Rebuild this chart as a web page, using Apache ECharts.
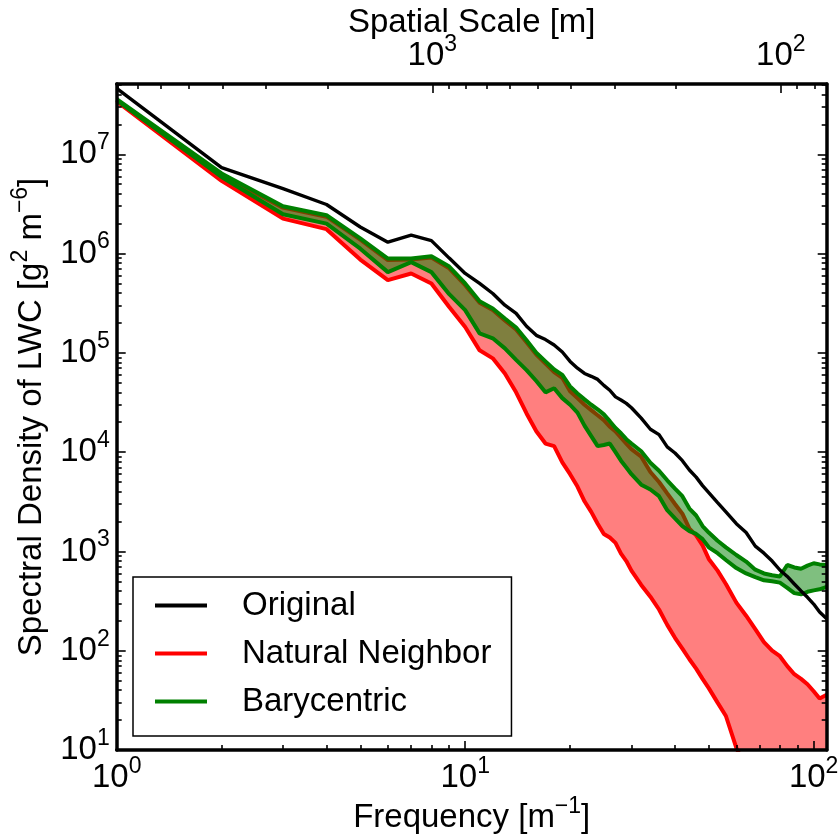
<!DOCTYPE html>
<html>
<head>
<meta charset="utf-8">
<script src="https://cdn.jsdelivr.net/npm/echarts@6/dist/echarts.min.js"></script>
<style>
  html, body { margin: 0; padding: 0; background: #fff; }
  #chart { width: 839px; height: 837px; }
</style>
</head>
<body>
<div id="chart"></div>
<script>
// frequency samples [m^-1]
const freq = [1, 2, 3, 4, 5, 6, 7, 8, 9, 10, 11, 12, 13, 14, 15, 16, 17, 18, 19, 20,
  21, 22, 23, 24, 25, 26, 27, 28, 29, 30, 32, 34, 36, 38, 40, 42, 44, 46, 48, 50,
  53, 56, 60, 64, 68, 72, 76, 80, 84, 88, 92, 96, 100, 104, 109];

const original = [4.6e7, 7.35e6, 4.5e6, 3.12e6, 1.85e6, 1.3e6, 1.53e6, 1.35e6, 9.0e5, 6.3e5,
  5.0e5, 3.96e5, 3.02e5, 2.5e5, 1.85e5, 1.5e5, 1.36e5, 1.2e5, 1.02e5, 8.2e4,
  7.0e4, 6.2e4, 5.8e4, 5.4e4, 4.7e4, 4.2e4, 3.6e4, 3.35e4, 3.1e4, 2.8e4,
  2.2e4, 1.7e4, 1.5e4, 1.13e4, 9.8e3, 8.2e3, 6.6e3, 5.6e3, 4.6e3, 3.9e3,
  3.1e3, 2.5e3, 1.9e3, 1.55e3, 1.13e3, 960, 800, 650, 560, 470, 400, 345, 295, 245, 210];

const nnUpper = [3.5e7, 6.2e6, 2.9e6, 2.35e6, 1.38e6, 8.6e5, 8.7e5, 9.1e5, 7.1e5, 4.8e5,
  3.2e5, 2.7e5, 2.12e5, 1.72e5, 1.28e5, 9.6e4, 7.8e4, 6.4e4, 5.6e4, 4.1e4,
  3.5e4, 3.0e4, 2.65e4, 2.35e4, 2.1e4, 1.8e4, 1.62e4, 1.4e4, 1.22e4, 1.07e4,
  9.0e3, 6.3e3, 5.0e3, 3.84e3, 3.0e3, 2.4e3, 1.7e3, 1.45e3, 1.15e3, 840,
  640, 470, 305, 225, 165, 122, 100, 88, 70, 58, 52, 46, 39, 33, 36];

const nnLower = [3.4e7, 5.4e6, 2.25e6, 1.76e6, 8.7e5, 5.4e5, 6.3e5, 5.0e5, 2.9e5, 1.82e5,
  1.06e5, 8.8e4, 6.2e4, 4.0e4, 2.45e4, 1.62e4, 1.22e4, 1.15e4, 7.9e3, 6.0e3,
  4.5e3, 3.2e3, 2.5e3, 1.9e3, 1.5e3, 1.38e3, 1.22e3, 950, 800, 640,
  460, 350, 260, 182, 135, 105, 82, 66, 52, 42,
  30, 22, 10.5, 6.5, 4.2, 3, 2.2, 1.6, 1.2, 0.95, 0.8, 0.65, 0.55, 0.45, 0.4];

const baryUpper = [3.6e7, 6.4e6, 3.0e6, 2.43e6, 1.42e6, 8.9e5, 8.9e5, 9.4e5, 7.4e5, 5.0e5,
  3.3e5, 2.8e5, 2.22e5, 1.8e5, 1.34e5, 1.0e5, 8.2e4, 6.8e4, 6.0e4, 4.6e4,
  3.9e4, 3.4e4, 3.0e4, 2.7e4, 2.4e4, 2.05e4, 1.75e4, 1.55e4, 1.35e4, 1.22e4,
  1.02e4, 7.8e3, 6.5e3, 5.2e3, 4.3e3, 3.6e3, 2.7e3, 2.3e3, 1.8e3, 1.55e3,
  1.28e3, 1.1e3, 920, 790, 655, 600, 575, 560, 730, 690, 670, 720, 760, 740, 730];

const baryLower = [3.5e7, 5.9e6, 2.49e6, 2.0e6, 1.12e6, 6.5e5, 8.2e5, 6.5e5, 3.9e5, 2.69e5,
  1.57e5, 1.4e5, 1.11e5, 8.5e4, 6.7e4, 5.2e4, 4.0e4, 4.4e4, 3.5e4, 3.0e4,
  2.5e4, 1.85e4, 1.45e4, 1.15e4, 1.18e4, 1.22e4, 1.0e4, 8.2e3, 7.0e3, 6.0e3,
  4.7e3, 4.2e3, 3.6e3, 2.6e3, 2.15e3, 1.8e3, 1.6e3, 1.5e3, 1.33e3, 1.1e3,
  960, 820, 680, 600, 550, 512, 500, 485, 430, 380, 370, 392, 405, 415, 440];

// axis ranges and tick values
const xMin = 1, xMax = 109;
const yMin = 10, yMax = 5.1e7;
const scaleFactor = 8050;           // spatial scale [m] = scaleFactor / frequency
const xMajor = [1, 10, 100];
const yMajor = [10, 100, 1e3, 1e4, 1e5, 1e6, 1e7];
const topMajor = [100, 1000];

const lg = Math.log10;
function minorsBetween(lo, hi) {
  const out = [];
  for (let p = Math.floor(lg(lo)) - 1; p <= Math.ceil(lg(hi)); p++) {
    for (let k = 2; k <= 9; k++) {
      const v = k * Math.pow(10, p);
      if (v >= lo && v <= hi) out.push(v);
    }
  }
  return out;
}
const xMinor = minorsBetween(xMin, xMax);
const yMinor = minorsBetween(yMin, yMax);
const topMinor = minorsBetween(scaleFactor / xMax, scaleFactor / xMin);

const FONT = "'Liberation Sans', Arial, Helvetica, sans-serif";
// tall base line so the top-aligned small token sits as a superscript
const rich = {
  b: { fontSize: 33, fontFamily: FONT, color: '#000', lineHeight: 46 },
  s: { fontSize: 23, fontFamily: FONT, color: '#000', lineHeight: 23, verticalAlign: 'top' }
};
const nameRich = {
  n: { fontSize: 33, fontFamily: FONT, color: '#000', lineHeight: 46 },
  s: { fontSize: 23, fontFamily: FONT, color: '#000', lineHeight: 23, verticalAlign: 'top' }
};
function powLabel(v) { return '{b|10}{s|' + Math.round(v) + '}'; }

const spine = { show: true, onZero: false, lineStyle: { color: '#000', width: 3.5 } };

// plain value axis in log10 space, used only for ticks / labels
function tickAxis(position, min, max, ticks, len, extra) {
  return Object.assign({
    type: 'value', position: position, min: min, max: max,
    axisLine: { show: false, onZero: false },
    axisTick: { show: true, inside: true, length: len, customValues: ticks.map(lg),
      lineStyle: { color: '#000', width: 1.6 } },
    axisLabel: { show: false },
    splitLine: { show: false },
    nameMoveOverlap: false,
    z: 10
  }, extra || {});
}
function labelled(ticks, margin) {
  return { show: true, customValues: ticks.map(lg), formatter: powLabel, rich: rich, margin: margin };
}

const xl0 = lg(xMin), xl1 = lg(xMax), yl0 = lg(yMin), yl1 = lg(yMax);
const tl0 = lg(scaleFactor / xMax), tl1 = lg(scaleFactor / xMin);

function lineSeries(name, ys, color, width, z) {
  return {
    type: 'line', name: name, xAxisIndex: 0, yAxisIndex: 0,
    data: freq.map((f, i) => [f, ys[i]]),
    showSymbol: false, symbol: 'none', clip: true, silent: true, z: z,
    lineStyle: { color: color, width: width },
    itemStyle: { color: color }
  };
}

function bandSeries(name, upper, lower, fill, z) {
  return {
    type: 'custom', name: name, xAxisIndex: 0, yAxisIndex: 0,
    clip: true, silent: true, z: z,
    data: freq.map((f, i) => [f, upper[i], lower[i]]),
    encode: { x: 0, y: [1, 2] },
    renderItem: function (params, api) {
      if (params.dataIndex !== 0) return null;
      const top = freq.map((f, i) => api.coord([f, upper[i]]));
      const bottom = freq.map((f, i) => api.coord([f, lower[i]])).reverse();
      return { type: 'polygon', shape: { points: top.concat(bottom) }, style: { fill: fill } };
    }
  };
}

const chart = echarts.init(document.getElementById('chart'));

chart.setOption({
  animation: false,
  backgroundColor: '#fff',
  grid: { left: 116.7, right: 12.3, top: 84, bottom: 87, outerBoundsMode: 'none', containLabel: false },
  legend: {
    orient: 'vertical', left: 133, top: 577,
    data: ['Original', 'Natural Neighbor', 'Barycentric'],
    icon: 'rect', itemWidth: 52, itemHeight: 4, itemGap: 15,
    padding: [12, 20, 18, 22],
    borderColor: '#000', borderWidth: 1.5, backgroundColor: '#fff',
    selectedMode: false, z: 20,
    textStyle: { fontSize: 33, fontFamily: FONT, color: '#000', padding: [0, 0, 0, 30] }
  },
  xAxis: [
    { type: 'log', position: 'bottom', min: xMin, max: xMax,
      axisLine: spine, axisTick: { show: false }, axisLabel: { show: false }, splitLine: { show: false }, z: 10 },
    tickAxis('bottom', xl0, xl1, xMajor, 9, {
      axisLabel: labelled(xMajor, 5),
      name: '{n|Frequency [m}{s|\u22121}{n|]}', nameLocation: 'middle', nameGap: 45,
      nameTextStyle: { rich: nameRich }
    }),
    tickAxis('bottom', xl0, xl1, xMinor, 5),
    tickAxis('top', tl0, tl1, topMajor, 9, {
      inverse: true, axisLine: spine,
      axisLabel: labelled(topMajor, 5),
      name: '{n|Spatial Scale [m]}', nameLocation: 'middle', nameGap: 38,
      nameTextStyle: { rich: nameRich }
    }),
    tickAxis('top', tl0, tl1, topMinor, 5, { inverse: true })
  ],
  yAxis: [
    { type: 'log', position: 'left', min: yMin, max: yMax,
      axisLine: spine, axisTick: { show: false }, axisLabel: { show: false }, splitLine: { show: false }, z: 10 },
    tickAxis('left', yl0, yl1, yMajor, 9, {
      axisLabel: labelled(yMajor, 7),
      name: '{n|Spectral Density of LWC [g}{s|2}{n| m}{s|\u22126}{n|]}', nameLocation: 'middle', nameGap: 62,
      nameTextStyle: { rich: nameRich }
    }),
    tickAxis('left', yl0, yl1, yMinor, 5),
    tickAxis('right', yl0, yl1, yMajor, 9, { axisLine: spine }),
    tickAxis('right', yl0, yl1, yMinor, 5)
  ],
  series: [
    bandSeries('nn-band', nnUpper, nnLower, 'rgba(255,0,0,0.5)', 1),
    lineSeries('Natural Neighbor', nnUpper, '#ff0000', 4, 2),
    lineSeries('Natural Neighbor', nnLower, '#ff0000', 4, 2),
    bandSeries('bary-band', baryUpper, baryLower, 'rgba(0,128,0,0.5)', 3),
    lineSeries('Barycentric', baryUpper, '#008000', 4, 4),
    lineSeries('Barycentric', baryLower, '#008000', 4, 4),
    lineSeries('Original', original, '#000000', 3.4, 5)
  ]
});

window.addEventListener('resize', chart.resize);
</script>
</body>
</html>
